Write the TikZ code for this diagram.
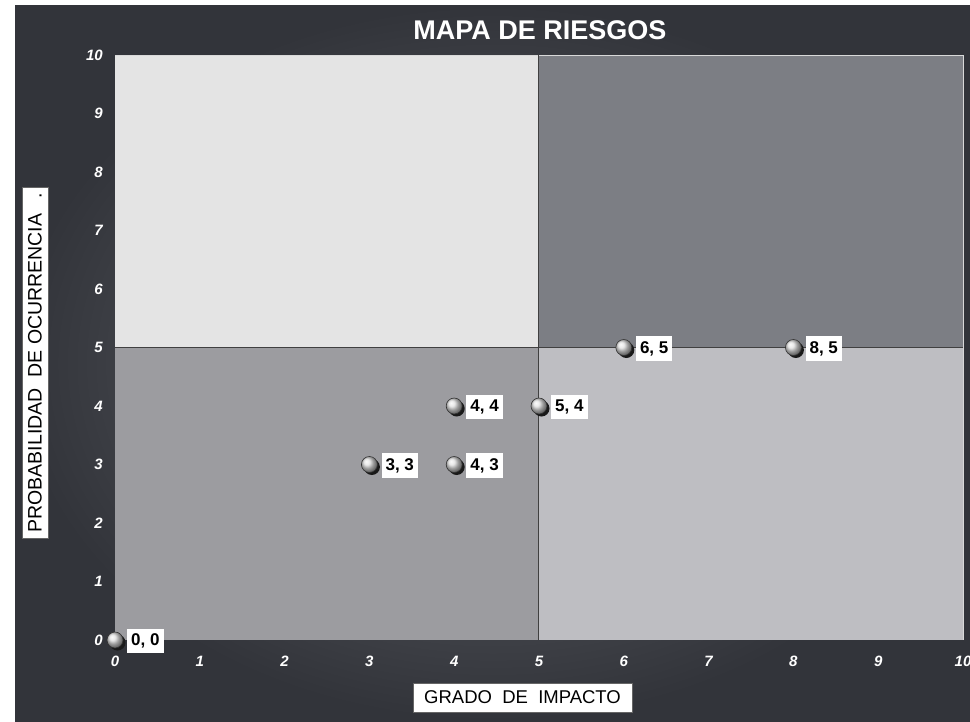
\documentclass[tikz,border=0pt]{standalone}
\usepackage{fontspec}
\setmainfont{Liberation Sans}
\usetikzlibrary{shadings}
\definecolor{bgdark}{RGB}{50,52,58}
\definecolor{bgmid}{RGB}{100,102,108}
\definecolor{qtl}{RGB}{228,228,228}
\definecolor{qtr}{RGB}{124,126,132}
\definecolor{qbl}{RGB}{156,156,160}
\definecolor{qbr}{RGB}{190,190,194}
\tikzset{
  ticklab/.style={text=white, font=\fontsize{15}{15}\selectfont\bfseries\itshape, inner sep=0pt},
  axisbox/.style={fill=white, draw=black!60, line width=0.6pt, font=\fontsize{18.5}{18.5}\selectfont, inner sep=0pt},
  ptlab/.style={fill=white, font=\fontsize{17}{17}\selectfont\bfseries, inner xsep=4pt, inner ysep=5pt, anchor=west},
  marker/.style={circle, minimum size=16pt, inner sep=0pt, shading=ball, ball color=black!12, draw=black!80, line width=0.6pt},
  shadowdot/.style={circle, minimum size=16pt, inner sep=0pt, fill=black!90}
}
\begin{document}
\begin{tikzpicture}[x=1pt,y=-1pt]
\useasboundingbox (0,0) rectangle (970,721);
\fill[white] (0,0) rectangle (970,721);
% background frame
\shade[inner color=bgmid, outer color=bgdark] (15,5) rectangle (970,721);
% quadrants
\fill[qtl] (115,55) rectangle (538,347);
\fill[qtr] (538,55) rectangle (963,347);
\fill[qbl] (115,347) rectangle (538,640);
\fill[qbr] (538,347) rectangle (963,640);
\draw[white!85!black, line width=0.8pt] (115,55) -- (963,55) -- (963,640);
\draw[black!75, line width=1pt] (115,347) -- (963,347);
\draw[black!75, line width=1pt] (538,55) -- (538,640);
% title
\node[text=white, font=\fontsize{27}{27}\selectfont\bfseries] (title) at (540,30) {MAPA DE RIESGOS};
% y ticks
\foreach \j in {0,...,10}{
  \node[ticklab, anchor=east] (yt\j) at (103,{640-58.5*\j}) {\j};
}
% x ticks
\foreach \i in {0,...,10}{
  \node[ticklab] (xt\i) at ({115+84.8*\i},661) {\i};
}
% axis labels
\node[axisbox, minimum width=219pt, minimum height=29pt] (xlab) at (522.5,697.5) {GRADO\ \ DE\ \ IMPACTO};
\node[axisbox, rotate=90, minimum width=351pt, minimum height=26pt] (ylab) at (35,362.5) {\fontsize{19.5}{19.5}\selectfont PROBABILIDAD\ \ DE OCURRENCIA\hspace{0.8em}.};
% points
\foreach \px/\py/\nm in {0/0/a, 3/3/b, 4/3/c, 4/4/d, 5/4/e, 6/5/f, 8/5/g}{
  \node[shadowdot] (s\nm) at ({115+84.8*\px+2.5},{640-58.5*\py+2.5}) {};
  \node[marker] (m\nm) at ({115+84.8*\px},{640-58.5*\py}) {};
  \node[ptlab] (l\nm) at ([xshift=12pt,yshift=-1pt]m\nm.center) {\px, \py};
}
\end{tikzpicture}
\end{document}
